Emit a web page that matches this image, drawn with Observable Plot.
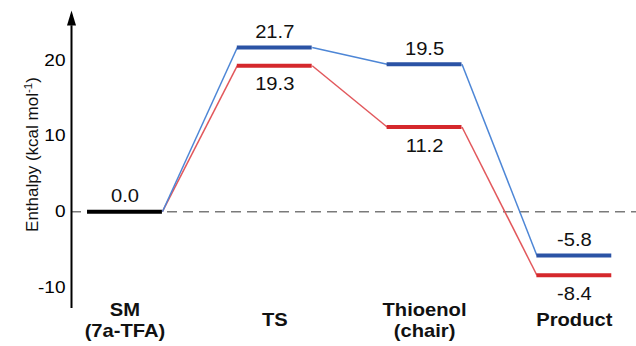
<!DOCTYPE html>
<html>
<head>
<meta charset="utf-8">
<script src="https://cdn.jsdelivr.net/npm/d3@7"></script>
<script src="https://cdn.jsdelivr.net/npm/@observablehq/plot@0.6"></script>
<style>
  html, body { margin: 0; padding: 0; background: #fff; }
</style>
</head>
<body>
<div id="chart"></div>
<script>
// ---- data ----
const stages = ["SM\n(7a-TFA)", "TS", "Thioenol\n(chair)", "Product"];
const blueValues = [0.0, 21.7, 19.5, -5.8];
const redValues = [0.0, 19.3, 11.2, -8.4];
const yTicks = [-10, 0, 10, 20];
const yLabelMain = "Enthalpy (kcal mol";
const yLabelSup = "-1";
const yLabelEnd = ")";

// ---- layout / style ----
const xMin = -0.357, xMax = 3.415;
const yMin = -12.8, yMax = 26.6, arrowBase = 24.6;
const half = 0.25;
const stretch = 1.12;
const blueLevel = "#2b53a5", blueLink = "#4d86d6";
const redLevel = "#d5282c", redLink = "#e2585c";
const font = "'Liberation Sans', Arial, sans-serif";

const rows = vals => vals.map((v, i) => ({i, v}));
const pairs = vals => vals.slice(0, -1).map((v, i) => ({i, a: v, b: vals[i + 1]}));

const arrowHead = {
  draw(ctx) {
    ctx.moveTo(0, 0);
    ctx.lineTo(4.5, 15);
    ctx.lineTo(-4.5, 15);
    ctx.closePath();
  }
};

const blueRows = rows(blueValues), redRows = rows(redValues);

const chart = Plot.plot({
  width: 636,
  height: 346,
  marginLeft: 71,
  marginRight: 0,
  marginTop: 10,
  marginBottom: 38,
  style: {fontFamily: font, background: "#fff", color: "#000"},
  x: {domain: [xMin, xMax], axis: null},
  y: {domain: [yMin, yMax], axis: null},
  marks: [
    // zero reference
    Plot.ruleY([0], {stroke: "#7a7a7a", strokeWidth: 1.6, strokeDasharray: "10,6"}),
    // connectors
    Plot.link(pairs(redValues), {x1: d => d.i + half, y1: "a", x2: d => d.i + 1 - half, y2: "b", stroke: redLink, strokeWidth: 1.5}),
    Plot.link(pairs(blueValues), {x1: d => d.i + half, y1: "a", x2: d => d.i + 1 - half, y2: "b", stroke: blueLink, strokeWidth: 1.5}),
    // levels
    Plot.ruleY(redRows.slice(1), {y: "v", x1: d => d.i - half, x2: d => d.i + half, stroke: redLevel, strokeWidth: 4}),
    Plot.ruleY(blueRows.slice(1), {y: "v", x1: d => d.i - half, x2: d => d.i + half, stroke: blueLevel, strokeWidth: 4}),
    Plot.ruleY(blueRows.slice(0, 1), {y: "v", x1: d => d.i - half, x2: d => d.i + half, stroke: "#000", strokeWidth: 4}),
    // value labels
    Plot.text(blueRows, {x: "i", y: "v", text: d => d.v.toFixed(1), dy: -15, fontSize: 18, fill: "#111"}),
    Plot.text(redRows.slice(1), {x: "i", y: "v", text: d => d.v.toFixed(1), dy: 19, fontSize: 18, fill: "#111"}),
    // stage labels
    Plot.text(stages, {x: (d, i) => i, frameAnchor: "bottom", dy: 11, text: d => d, lineAnchor: "middle", lineHeight: 1.17, fontWeight: "bold", fontSize: 18, fill: "#111"}),
    // y axis with arrow
    Plot.ruleX([xMin], {y1: yMin, y2: arrowBase, stroke: "#000", strokeWidth: 2}),
    Plot.dot([yMax], {x: xMin, y: d => d, symbol: arrowHead, fill: "#000", stroke: "none", r: 5}),
    Plot.axisY(yTicks, {tickSize: 0, tickPadding: 6, fontSize: 17, label: null, tickFormat: d => d < 0 ? "-" + Math.abs(d) : String(d)}),
    // y axis title
    Plot.text([yLabelMain], {frameAnchor: "left", textAnchor: "middle", lineAnchor: "middle", rotate: -90, dx: -38.5, dy: -5, fontSize: 17, fill: "#111", className: "ylabel"})
  ]
});

// superscript in the axis title
const yl = d3.select(chart).select("g.ylabel text");
yl.text(yLabelMain);
yl.append("tspan").attr("baseline-shift", "super").attr("font-size", "68%").text(yLabelSup);
yl.append("tspan").text(yLabelEnd);

// the reference's horizontal lettering is slightly wide: stretch glyphs horizontally about their anchor
d3.select(chart).selectAll("text").each(function () {
  let t = this.getAttribute("transform");
  if (t && t.includes("rotate")) return;
  if (t) {
    this.setAttribute("transform", t + ` scale(${stretch},1)`);
  } else {
    const x = +(this.getAttribute("x") || 0), y = +(this.getAttribute("y") || 0);
    this.setAttribute("transform", `translate(${x},${y}) scale(${stretch},1) translate(${-x},${-y})`);
  }
});

document.getElementById("chart").appendChild(chart);
</script>
</body>
</html>
